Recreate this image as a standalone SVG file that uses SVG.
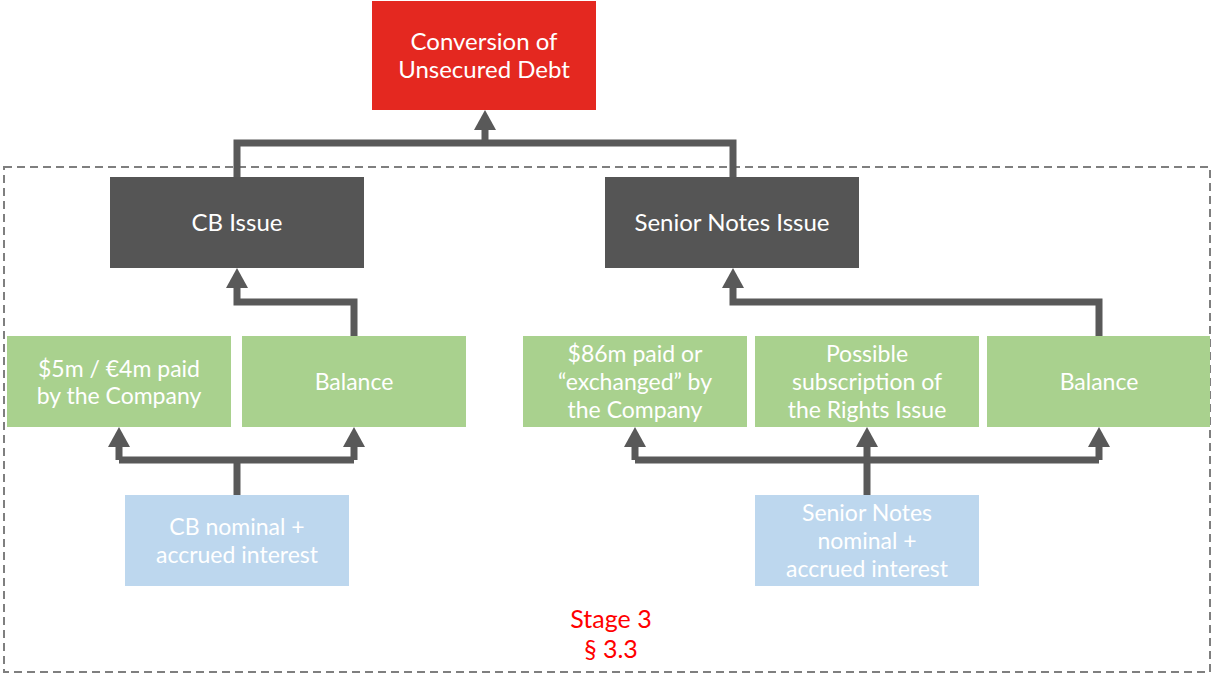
<svg xmlns="http://www.w3.org/2000/svg" width="1213" height="677" viewBox="0 0 1213 677">
  <style>
    .lbl { font-family: Lato, "Open Sans", "Liberation Sans", sans-serif; font-size: 23px; fill: #ffffff; text-anchor: middle; }
    .big { font-size: 24px; }
    .red { fill: #e42820; }
    .dark { fill: #555555; }
    .green { fill: #a9d18e; }
    .blue { fill: #bdd7ee; }
    .conn { fill: none; stroke: #595959; stroke-width: 7; stroke-linejoin: miter; }
    .stage { font-family: Lato, "Open Sans", "Liberation Sans", sans-serif; font-size: 25px; fill: #ff0000; text-anchor: middle; }
  </style>
  <defs>
    <marker id="arrow" viewBox="0 0 20 22" refX="0" refY="11" markerUnits="userSpaceOnUse" markerWidth="20" markerHeight="22" orient="auto">
      <path d="M0,0 L20,11 L0,22 z" fill="#595959"/>
    </marker>
  </defs>
  <rect width="1213" height="677" fill="#ffffff"/>

  <!-- stage boundary -->
  <rect id="stage-frame" x="4" y="167" width="1206" height="505" fill="none" stroke="#7f7f7f" stroke-width="2" stroke-dasharray="8 5"/>

  <g id="connectors">
    <!-- issues to conversion -->
    <path class="conn" d="M237,177 V143 H733 V177"/>
    <path class="conn" d="M485,143 V130" marker-end="url(#arrow)"/>
    <!-- CB issue inputs -->
    <path class="conn" d="M354,336 V302 H237 V288" marker-end="url(#arrow)"/>
    <path class="conn" d="M237,495 V460"/>
    <path class="conn" d="M119,460 H354"/>
    <path class="conn" d="M119,460 V447" marker-end="url(#arrow)"/>
    <path class="conn" d="M354,460 V447" marker-end="url(#arrow)"/>
    <!-- Senior notes inputs -->
    <path class="conn" d="M1099,336 V302 H733 V288" marker-end="url(#arrow)"/>
    <path class="conn" d="M867,495 V447" marker-end="url(#arrow)"/>
    <path class="conn" d="M635,460 H1099"/>
    <path class="conn" d="M635,460 V447" marker-end="url(#arrow)"/>
    <path class="conn" d="M1099,460 V447" marker-end="url(#arrow)"/>
  </g>

  <g id="conversion">
    <rect class="red" x="372" y="1" width="224" height="109"/>
    <text class="lbl big" x="484" y="50">Conversion of</text>
    <text class="lbl big" x="484" y="78">Unsecured Debt</text>
  </g>

  <g id="cb-issue">
    <rect class="dark" x="110" y="177" width="254" height="91"/>
    <text class="lbl big" x="237" y="231">CB Issue</text>
  </g>

  <g id="senior-notes-issue">
    <rect class="dark" x="605" y="177" width="254" height="91"/>
    <text class="lbl big" x="732" y="231">Senior Notes Issue</text>
  </g>

  <g id="cb-paid">
    <rect class="green" x="7" y="336" width="224" height="91"/>
    <text class="lbl" x="119" y="377">$5m / €4m paid</text>
    <text class="lbl" x="119" y="404">by the Company</text>
  </g>

  <g id="cb-balance">
    <rect class="green" x="242" y="336" width="224" height="91"/>
    <text class="lbl" x="354" y="390">Balance</text>
  </g>

  <g id="sn-paid">
    <rect class="green" x="523" y="336" width="224" height="91"/>
    <text class="lbl" x="635" y="362">$86m paid or</text>
    <text class="lbl" x="635" y="390">“exchanged” by</text>
    <text class="lbl" x="635" y="418">the Company</text>
  </g>

  <g id="sn-rights">
    <rect class="green" x="755" y="336" width="224" height="91"/>
    <text class="lbl" x="867" y="362">Possible</text>
    <text class="lbl" x="867" y="390">subscription of</text>
    <text class="lbl" x="867" y="418">the Rights Issue</text>
  </g>

  <g id="sn-balance">
    <rect class="green" x="987" y="336" width="223" height="91"/>
    <text class="lbl" x="1099" y="390">Balance</text>
  </g>

  <g id="cb-nominal">
    <rect class="blue" x="125" y="495" width="224" height="91"/>
    <text class="lbl" x="237" y="535">CB nominal +</text>
    <text class="lbl" x="237" y="563">accrued interest</text>
  </g>

  <g id="sn-nominal">
    <rect class="blue" x="755" y="495" width="224" height="91"/>
    <text class="lbl" x="867" y="521">Senior Notes</text>
    <text class="lbl" x="867" y="549">nominal +</text>
    <text class="lbl" x="867" y="577">accrued interest</text>
  </g>

  <g id="stage-label">
    <text class="stage" x="611" y="628">Stage 3</text>
    <text class="stage" x="611" y="658">§ 3.3</text>
  </g>
</svg>
